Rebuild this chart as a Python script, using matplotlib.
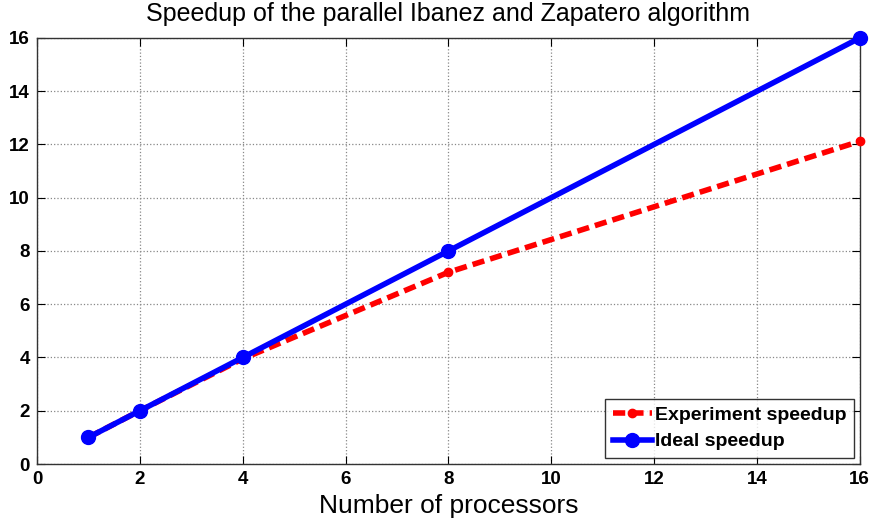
import matplotlib
matplotlib.use("Agg")
import matplotlib.pyplot as plt

processors = [1, 2, 4, 8, 16]
experiment_speedup = [1.0, 2.0, 3.95, 7.2, 12.12]
ideal_speedup = [1, 2, 4, 8, 16]
xticks = [0, 2, 4, 6, 8, 10, 12, 14, 16]
yticks = [0, 2, 4, 6, 8, 10, 12, 14, 16]

plt.rcParams['font.family'] = ['Liberation Sans', 'DejaVu Sans']

fig = plt.figure(figsize=(8.71, 5.24), dpi=100)
ax = fig.add_axes([0.0425, 0.1145, 0.9445, 0.813])

ax.plot(processors, experiment_speedup, color='#ff0000', linestyle='--', linewidth=4,
        marker='o', markersize=6, dashes=(2.2, 1.1), label='Experiment speedup',
        zorder=3, clip_on=False)
ax.plot(processors, ideal_speedup, color='#0000ff', linestyle='-', linewidth=4,
        marker='o', markersize=10, label='Ideal speedup', zorder=4, clip_on=False)

ax.set_xlim(0, 16)
ax.set_ylim(0, 16)
ax.set_xticks(xticks)
ax.set_yticks(yticks)
ax.tick_params(direction='in', top=True, right=True, labelsize=13.5, length=6, pad=5)
for lab in ax.get_xticklabels() + ax.get_yticklabels():
    lab.set_fontweight('bold')
ax.grid(True, linestyle=':', color='#888888', linewidth=0.9)
for s in ax.spines.values():
    s.set_color('#333333')
    s.set_linewidth(1.0)

ax.set_title('Speedup of the parallel Ibanez and Zapatero algorithm', fontsize=18, pad=12)
ax.set_xlabel('Number of processors', fontsize=19, labelpad=4)

leg = ax.legend(loc='lower right', fontsize=14, frameon=True, fancybox=False,
                edgecolor='black', handlelength=2.0, handletextpad=0.15,
                borderpad=0.4, labelspacing=0.45, borderaxespad=0.3)
leg.get_frame().set_linewidth(1.0)
for t in leg.get_texts():
    t.set_fontweight('bold')

fig.savefig('out.png', dpi=100)
